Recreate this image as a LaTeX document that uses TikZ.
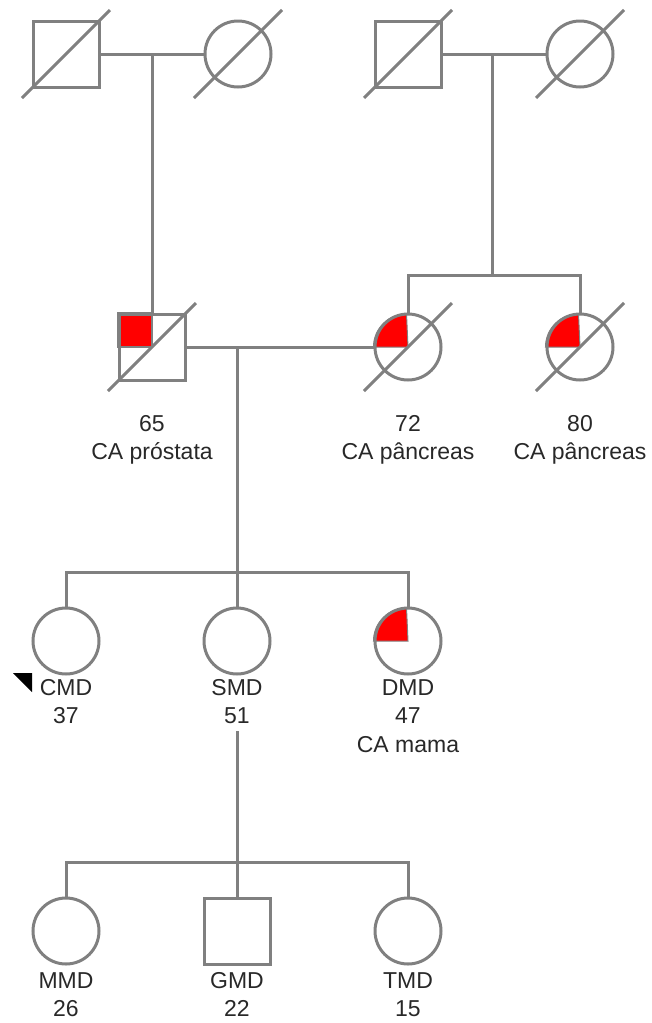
\documentclass[tikz,border=0pt]{standalone}
\usepackage{fontspec}
\setmainfont{Liberation Sans}
\usepackage{tikz}
\usetikzlibrary{calc, backgrounds}
\usepackage{xcolor}
\definecolor{linegray}{RGB}{128,128,128}
\definecolor{txtgray}{RGB}{40,40,40}

\begin{document}
\begin{tikzpicture}[x=1pt, y=-1pt,
    pline/.style={draw=linegray, line width=3pt},
    male/.style={pline, rectangle, minimum size=66pt, inner sep=0pt},
    female/.style={pline, circle, minimum size=66pt, inner sep=0pt},
    lbl/.style={anchor=north, align=center, inner sep=0pt, text=txtgray, font=\fontsize{23}{28.5}\selectfont}]
    \useasboundingbox (0,0) rectangle (651,1023);

    % grandparents
    \node[male]   (gpa1) at (66,54) {};
    \node[female] (gma1) at (238,54) {};
    \node[male]   (gpa2) at (408,54) {};
    \node[female] (gma2) at (580,54) {};

    % parents and aunt
    \node[male]   (pai) at (152,347) {};
    \node[female] (mae) at (408,347) {};
    \node[female] (tia) at (580,347) {};
    \node[lbl] (pailbl) at (152,415) {65\\CA próstata};
    \node[lbl] (maelbl) at (408,415) {72\\CA pâncreas};
    \node[lbl] (tialbl) at (580,415) {80\\CA pâncreas};

    % sisters
    \node[female] (cmd) at (66,641) {};
    \node[female] (smd) at (237,641) {};
    \node[female] (dmd) at (408,641) {};
    \node[lbl] (cmdlbl) at (66,679) {CMD\\37};
    \node[lbl] (smdlbl) at (237,679) {SMD\\51};
    \node[lbl] (dmdlbl) at (408,679) {DMD\\47\\CA mama};

    % children of SMD
    \node[female] (mmd) at (66,931) {};
    \node[male]   (gmd) at (237,931) {};
    \node[female] (tmd) at (408,931) {};
    \node[lbl] (mmdlbl) at (66,972) {MMD\\26};
    \node[lbl] (gmdlbl) at (237,972) {GMD\\22};
    \node[lbl] (tmdlbl) at (408,972) {TMD\\15};

    % affected quarters
    \begin{scope}[on background layer]
        \filldraw[fill=red, draw=linegray, line width=2pt] (pai.center) rectangle (pai.north west);
        \foreach \n in {mae, tia, dmd}
            \filldraw[fill=red, draw=linegray, line width=1pt] (\n.center) -- (\n.west) arc[start angle=180, end angle=270, radius=33] -- cycle;
    \end{scope}

    % deceased
    \foreach \n in {gpa1, gma1, gpa2, gma2, pai, mae, tia}
        \draw[pline] ($(\n)+(-44,44)$) -- ($(\n)+(44,-44)$);

    % proband
    \fill[black] ($(cmd)+(-53,32)$) -- ++(19,0) -- ++(0,19) -- cycle;

    % lines of descent
    \coordinate (sib1) at (492,275);
    \coordinate (sib2) at (237,572);
    \coordinate (sib3) at (237,862);

    \draw[pline] (gpa1.east) -- (gma1.west);
    \draw[pline] (gpa1.east -| pai) -- (pai.north);

    \draw[pline] (gpa2.east) -- (gma2.west);
    \draw[pline] (gpa2.east -| sib1) -- (sib1);
    \draw[pline] (mae.north) |- (sib1) -| (tia.north);

    \draw[pline] (pai.east) -- (mae.west);
    \draw[pline] (pai.east -| sib2) -- (sib2);
    \draw[pline] (cmd.north) |- (sib2) -| (dmd.north);
    \draw[pline] (sib2) -- (smd.north);

    \draw[pline] ($(smdlbl.south)+(0,7)$) -- (sib3);
    \draw[pline] (mmd.north) |- (sib3) -| (tmd.north);
    \draw[pline] (sib3) -- (gmd.north);
\end{tikzpicture}
\end{document}
